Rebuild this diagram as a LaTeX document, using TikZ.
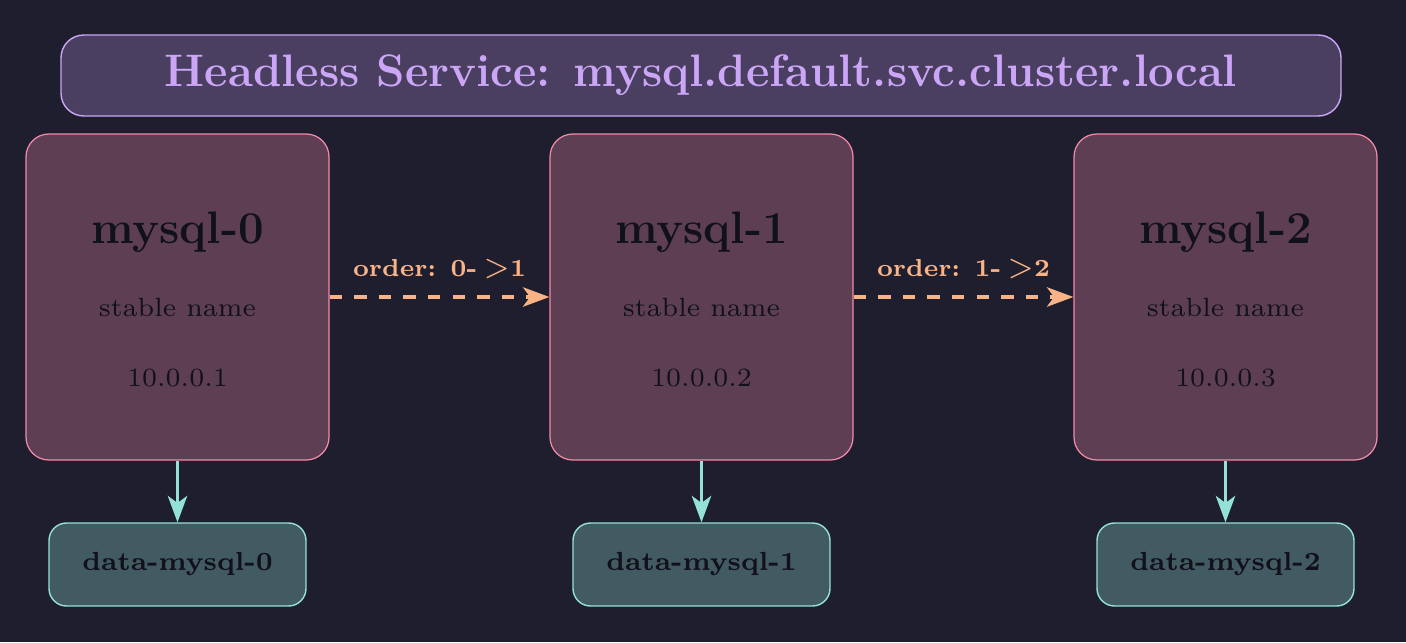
\documentclass[tikz,border=0pt]{standalone}
\usepackage{fontspec}
\usetikzlibrary{arrows.meta,positioning}
\newfontfamily\piccolofont{lmroman7-regular.otf}[BoldFont=lmroman7-bold.otf]
\newcommand{\freccetta}{{\mdseries\fontsize{17}{17}\selectfont>}}
\definecolor{sfondo}{HTML}{1E1E2E}
\definecolor{malva}{HTML}{CBA6F7}
\definecolor{malvascuro}{HTML}{4A3F61}
\definecolor{rosa}{HTML}{F38BA8}
\definecolor{rosascuro}{HTML}{5E3E53}
\definecolor{pesca}{HTML}{FAB387}
\definecolor{verdeacqua}{HTML}{94E2D5}
\definecolor{verdescuro}{HTML}{425A62}
\definecolor{testo}{HTML}{11111B}
\begin{document}
\begin{tikzpicture}[>={Stealth[length=15pt,width=11pt,inset=4pt]},
    servizio/.style={draw=malva, fill=malvascuro, line width=0.8pt, rounded corners=13pt, minimum width=25.6cm, minimum height=1.62cm, text=malva, font=\fontsize{25.9}{31}\selectfont\bfseries},
    pod/.style={draw=rosa, fill=rosascuro, line width=0.7pt, rounded corners=13pt, minimum width=6.06cm, minimum height=6.52cm},
    nomepod/.style={anchor=base, text=testo, font=\fontsize{25.9}{31}\selectfont\bfseries},
    infopod/.style={anchor=base, text=testo, font=\piccolofont\fontsize{15}{18}\selectfont},
    volume/.style={draw=verdeacqua, fill=verdescuro, line width=0.8pt, rounded corners=10pt, minimum width=5.14cm, minimum height=1.66cm, text=testo, font=\piccolofont\fontsize{14.9}{18}\selectfont\bfseries},
    etichetta/.style={anchor=base, text=pesca, font=\piccolofont\fontsize{14}{17}\selectfont\bfseries},
    ordine/.style={->, pesca, line width=2pt, dash pattern=on 7pt off 7pt},
    montaggio/.style={->, verdeacqua, line width=2pt}]
    % Sfondo
    \fill[sfondo] (0,0) rectangle (28.12,-12.84);
    % Servizio headless
    \node[servizio] (svc) at (14.02,-1.51) {Headless Service: mysql.default.svc.cluster.local};
    % Pod
    \node[pod] (pod0) at (3.55,-5.94) {};
    \node[pod] (pod1) at (14.03,-5.94) {};
    \node[pod] (pod2) at (24.51,-5.94) {};
    % Testi dei pod
    \node[nomepod] (nome0) at ([yshift=1.08cm]pod0.center) {mysql-0};
    \node[infopod] (stab0) at ([yshift=-0.38cm]pod0.center) {stable name};
    \node[infopod] (ip0) at ([yshift=-1.78cm]pod0.center) {10.0.0.1};
    \node[nomepod] (nome1) at ([yshift=1.08cm]pod1.center) {mysql-1};
    \node[infopod] (stab1) at ([yshift=-0.38cm]pod1.center) {stable name};
    \node[infopod] (ip1) at ([yshift=-1.78cm]pod1.center) {10.0.0.2};
    \node[nomepod] (nome2) at ([yshift=1.08cm]pod2.center) {mysql-2};
    \node[infopod] (stab2) at ([yshift=-0.38cm]pod2.center) {stable name};
    \node[infopod] (ip2) at ([yshift=-1.78cm]pod2.center) {10.0.0.3};
    % Volumi
    \node[volume] (data0) at (3.55,-11.29) {data-mysql-0};
    \node[volume] (data1) at (14.03,-11.29) {data-mysql-1};
    \node[volume] (data2) at (24.51,-11.29) {data-mysql-2};
    % Frecce di ordine
    \draw[ordine] (pod0.east) -- node[etichetta, yshift=0.42cm] (ord01) {order: 0-\hspace{0.25em}\freccetta1} (pod1.west);
    \draw[ordine] (pod1.east) -- node[etichetta, yshift=0.42cm] (ord12) {order: 1-\hspace{0.25em}\freccetta2} (pod2.west);
    % Frecce verso i volumi
    \draw[montaggio] (pod0) -- (data0);
    \draw[montaggio] (pod1) -- (data1);
    \draw[montaggio] (pod2) -- (data2);
\end{tikzpicture}
\end{document}
